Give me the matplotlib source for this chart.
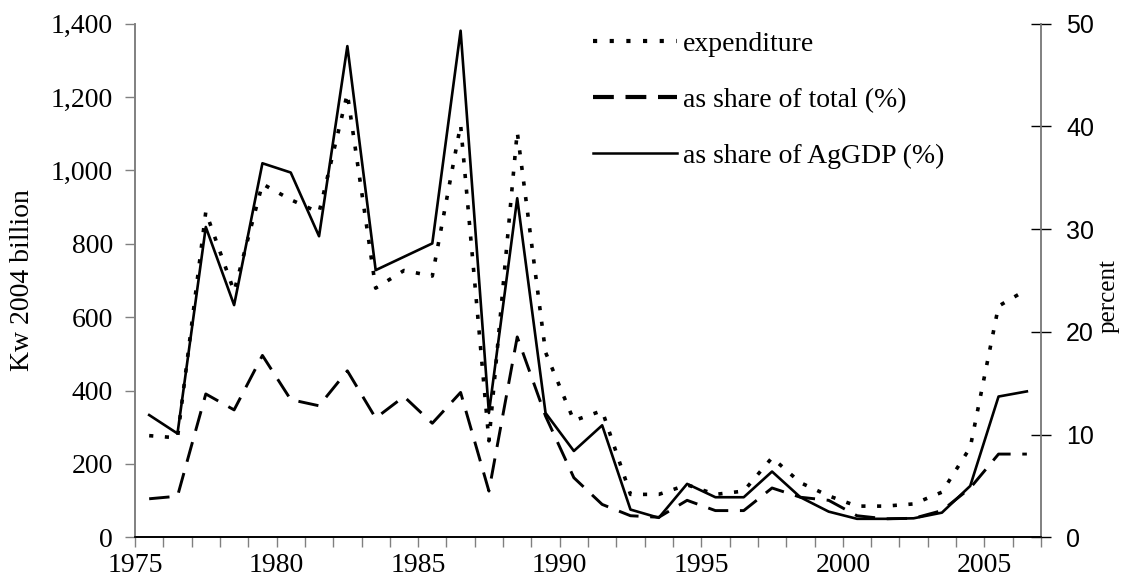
#!/usr/bin/env python3
"""Agricultural expenditure (Kw 2004 billion) and its shares, 1975-2006."""

import matplotlib

matplotlib.use("Agg")
import matplotlib.pyplot as plt
from matplotlib.lines import Line2D
import numpy as np

YEARS = list(range(1975, 2007))

# left axis, Kw 2004 billion
EXPENDITURE = [277, 271, 887, 670, 963, 920, 885, 1209, 679, 727, 712, 1124,
               263, 1105, 504, 318, 345, 117, 117, 143, 117, 126, 217, 149,
               113, 85, 85, 91, 123, 245, 630, 675]

# right axis, percent
SHARE_TOTAL = [3.75, 4.0, 13.95, 12.4, 17.7, 13.4, 12.8, 16.2, 11.6, 13.7, 11.1,
               14.1, 4.5, 19.5, 11.8, 5.8, 3.2, 2.1, 1.95, 3.6, 2.6, 2.6, 4.8,
               3.9, 3.6, 2.1, 1.8, 1.85, 2.6, 4.8, 8.1, 8.1]
SHARE_AGGDP = [11.9, 10.1, 30.2, 22.6, 36.4, 35.5, 29.3, 47.8, 26.0, 27.3, 28.6,
               49.3, 12.1, 33.0, 12.1, 8.4, 10.9, 2.7, 1.9, 5.2, 3.9, 3.9, 6.4,
               3.9, 2.5, 1.8, 1.8, 1.85, 2.4, 5.0, 13.7, 14.2]

LEFT_TICKS = [0, 200, 400, 600, 800, 1000, 1200, 1400]
RIGHT_TICKS = [0, 10, 20, 30, 40, 50]

SERIF = ["Liberation Serif", "DejaVu Serif"]
SANS = ["Liberation Sans", "DejaVu Sans"]
GREY = "#808080"

DOTTED = (0, (1.15, 3.2))
DASHED = (0, (7.0, 4.0))


def main() -> None:
    fig = plt.figure(figsize=(11.27, 5.88), dpi=100)
    ax = fig.add_axes([0.1198, 0.0862, 0.8039, 0.8738])
    ax2 = ax.twinx()

    years = np.array(YEARS, dtype=float)

    ax.plot(years, EXPENDITURE, color="black", lw=2.6, linestyle=DOTTED,
            dash_capstyle="butt", zorder=3)
    ax2.plot(years, SHARE_TOTAL, color="black", lw=2.1, linestyle=DASHED,
             dash_capstyle="butt", zorder=3)
    ax2.plot(years, SHARE_AGGDP, color="black", lw=1.9, zorder=3)

    ax.set_xlim(years[0] - 0.5, years[-1] + 0.5)
    ax.set_ylim(0, 1400)
    ax2.set_ylim(0, 50)

    # Excel-style category axis: ticks between years, labels on the edges
    edges = np.append(years - 0.5, years[-1] + 0.5)
    labels = [str(y) if y % 5 == 0 else "" for y in YEARS] + [""]
    ax.set_xticks(edges)
    ax.set_xticklabels(labels, fontfamily=SERIF, fontsize=20)

    ax.set_yticks(LEFT_TICKS)
    ax.set_yticklabels([f"{v:,}" for v in LEFT_TICKS], fontfamily=SERIF, fontsize=20)
    ax2.set_yticks(RIGHT_TICKS)
    ax2.set_yticklabels([str(v) for v in RIGHT_TICKS], fontfamily=SANS, fontsize=18)

    ax.tick_params(axis="x", direction="out", length=7.5, width=1.0, color=GREY, pad=4)
    ax.tick_params(axis="y", direction="out", length=7, width=1.0, color=GREY, pad=9)
    ax2.tick_params(axis="y", direction="inout", length=14, width=1.0, color="black", pad=11)

    for a in (ax, ax2):
        a.spines["top"].set_visible(False)
        a.spines["left"].set_color(GREY)
        a.spines["right"].set_color(GREY)
        a.spines["bottom"].set_color("black")
        for s in a.spines.values():
            s.set_linewidth(1.2)

    ax.set_ylabel("Kw 2004 billion", fontfamily=SERIF, fontsize=20)
    ax.yaxis.set_label_coords(-0.110, 0.5)
    ax2.set_ylabel("percent", fontfamily=SERIF, fontsize=18)
    ax2.yaxis.set_label_coords(1.062, 0.47)

    handles = [
        Line2D([], [], color="black", lw=3.0, linestyle=(0, (1.0, 3.0)), dash_capstyle="butt"),
        Line2D([], [], color="black", lw=3.0, linestyle=(0, (5.0, 2.8)), dash_capstyle="butt"),
        Line2D([], [], color="black", lw=1.8),
    ]
    names = ["expenditure", "as share of total (%)", "as share of AgGDP (%)"]
    ax.legend(handles, names, loc="upper left", bbox_to_anchor=(0.505, 0.985),
              frameon=False, borderpad=0, borderaxespad=0,
              handlelength=3.05, handletextpad=0.2, labelspacing=1.1,
              prop={"family": SERIF, "size": 20})

    fig.savefig("out.png", dpi=100)


if __name__ == "__main__":
    main()
